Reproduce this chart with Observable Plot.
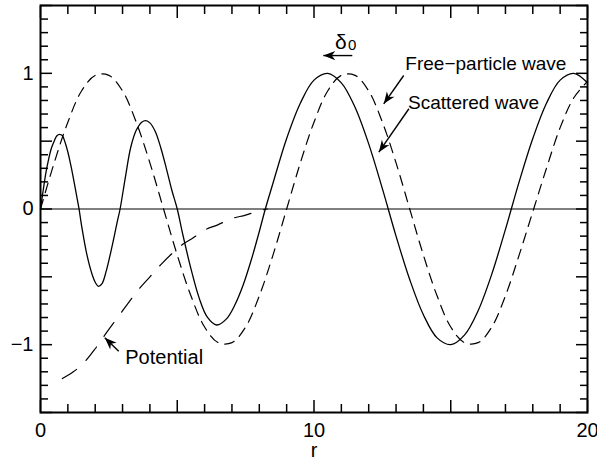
<!DOCTYPE html>
<html>
<head>
<meta charset="utf-8">
<script src="https://cdn.jsdelivr.net/npm/d3@7"></script>
<script src="https://cdn.jsdelivr.net/npm/@observablehq/plot@0.6"></script>
<style>
  html, body { margin: 0; padding: 0; background: #fff; }
  #chart svg { display: block; }
</style>
</head>
<body>
<div id="chart"></div>
<script>
// ---- Data ----
// Scattered wave (solid)
const scatR = [0, 0.1, 0.2, 0.3, 0.4, 0.5, 0.6, 0.7, 0.8, 0.9, 1.0, 1.1, 1.2, 1.3, 1.41,
  1.5, 1.7, 1.9, 2.0, 2.12, 2.25, 2.4, 2.6, 2.8, 2.91,
  3.1, 3.3, 3.5, 3.7, 3.85, 4.0, 4.2, 4.4, 4.6, 4.8, 5.0,
  5.2, 5.5, 5.8, 6.1, 6.44, 6.8, 7.1, 7.4, 7.7, 8.0, 8.22,
  8.5, 9.0, 9.5, 10.0, 10.5, 11.0, 11.5, 12.0, 12.5, 13.0, 13.5, 14.0, 14.5, 15.0,
  15.5, 16.0, 16.5, 17.0, 17.5, 18.0, 18.5, 19.0, 19.5, 20.0];
const scatV = [0, 0.14, 0.27, 0.37, 0.45, 0.50, 0.54, 0.55, 0.54, 0.49, 0.42, 0.33, 0.23, 0.12, 0,
  -0.12, -0.34, -0.49, -0.54, -0.57, -0.55, -0.46, -0.29, -0.10, 0,
  0.23, 0.455, 0.58, 0.64, 0.652, 0.635, 0.57, 0.45, 0.30, 0.14, 0,
  -0.185, -0.44, -0.655, -0.797, -0.855, -0.81, -0.71, -0.566, -0.38, -0.166, 0,
  0.19, 0.52, 0.78, 0.95, 1.00, 0.93, 0.75, 0.48, 0.15, -0.20, -0.52, -0.78, -0.95, -1.00,
  -0.93, -0.75, -0.48, -0.15, 0.20, 0.52, 0.78, 0.95, 1.00, 0.93];

// Free-particle wave (short dashes)
const freeR = [0, 0.5, 1, 1.5, 2, 2.5, 3, 3.5, 4, 4.5, 5, 5.5, 6, 6.5, 7, 7.5, 8, 8.5, 9, 9.5,
  10, 10.5, 11, 11.5, 12, 12.5, 13, 13.5, 14, 14.5, 15, 15.5, 16, 16.5, 17, 17.5, 18, 18.5, 19, 19.5, 20];
const freeV = [0, 0.34, 0.64, 0.87, 0.985, 0.985, 0.87, 0.64, 0.34, 0, -0.34, -0.64, -0.87, -0.985, -0.985, -0.87, -0.64, -0.34, 0, 0.34,
  0.64, 0.87, 0.985, 0.985, 0.87, 0.64, 0.34, 0, -0.34, -0.64, -0.87, -0.985, -0.985, -0.87, -0.64, -0.34, -0.02, 0.30, 0.60, 0.82, 0.94];

// Potential (long dashes)
const potR = [0.8, 1.2, 1.6, 2.0, 2.4, 2.8, 3.2, 3.6, 4.0, 4.4, 4.8, 5.2, 5.6, 6.0, 6.5, 7.0, 7.5, 8.0, 8.3];
const potV = [-1.25, -1.20, -1.13, -1.03, -0.915, -0.805, -0.695, -0.59, -0.50, -0.41, -0.33, -0.26, -0.21, -0.155, -0.115, -0.07, -0.045, -0.012, 0];

// Axis ticks
const xMajor = [0, 5, 10, 15, 20];
const xMinor = [1, 2, 3, 4, 6, 7, 8, 9, 11, 12, 13, 14, 16, 17, 18, 19];
const xLabels = [0, 10, 20];
const yMajor = [-1.5, -1, -0.5, 0, 0.5, 1, 1.5];
const yMinor = d3.range(-15, 16).filter(i => i % 5 !== 0).map(i => i / 10);
const yLabels = [-1, 0, 1];
const xTitle = "r";

// Annotations (data coordinates)
const arrowStartR = [11.40, 13.28, 13.47, 2.86];
const arrowStartV = [1.131, 0.984, 0.739, -1.048];
const arrowTipR   = [10.34, 12.55, 12.37, 2.35];
const arrowTipV   = [1.131, 0.775, 0.419, -0.949];
const labelText = ["Free\u2212particle wave", "Scattered wave", "Potential"];
const labelR = [13.34, 13.44, 3.10];
const labelV = [1.070, 0.781, -1.096];
const labelSize = [19, 19, 20];

// ---- Build tables ----
const scat = scatR.map((r, i) => ({r, v: scatV[i]}));
const free = freeR.map((r, i) => ({r, v: freeV[i]}));
const pot = potR.map((r, i) => ({r, v: potV[i]}));

const W = 597, H = 468;
const mL = 40, mR = 10, mT = 5, mB = 56;
const kx = (W - mL - mR) / 20, ky = (H - mT - mB) / 3;

const arrows = arrowStartR.map((r, i) => {
  const x1 = r, y1 = arrowStartV[i], x2 = arrowTipR[i], y2 = arrowTipV[i];
  const ang = Math.atan2(-(y2 - y1) * ky, (x2 - x1) * kx) * 180 / Math.PI;
  return {x1, y1, x2, y2, ang};
});
const labels = labelText.map((t, i) => ({t, r: labelR[i], v: labelV[i], s: labelSize[i]}));

const head = {
  draw(ctx) {
    ctx.moveTo(0, 0);
    ctx.lineTo(-12, -4.6);
    ctx.lineTo(-8.5, 0);
    ctx.lineTo(-12, 4.6);
    ctx.closePath();
  }
};

const font = "'Liberation Sans', Arial, Helvetica, sans-serif";
const noText = () => "";
const fmt = d => d < 0 ? "\u2212" + Math.abs(d) : String(d);

const chart = Plot.plot({
  width: W, height: H,
  marginLeft: mL, marginRight: mR, marginTop: mT, marginBottom: mB,
  style: {fontFamily: font, fontSize: "19px", background: "white", color: "black"},
  x: {domain: [0, 20]},
  y: {domain: [-1.5, 1.5]},
  marks: [
    Plot.ruleY([0], {stroke: "black", strokeWidth: 1.2}),
    Plot.line(pot, {x: "r", y: "v", stroke: "black", strokeWidth: 1.2, strokeDasharray: "17,13", curve: "catmull-rom"}),
    Plot.line(free, {x: "r", y: "v", stroke: "black", strokeWidth: 1.2, strokeDasharray: "10,7", curve: "catmull-rom"}),
    Plot.line(scat, {x: "r", y: "v", stroke: "black", strokeWidth: 1.3, curve: "catmull-rom"}),

    // inward ticks, all four sides
    Plot.axisX(xMinor, {anchor: "bottom", tickSize: -8, tickFormat: noText, strokeWidth: 1.5, label: null}),
    Plot.axisX(xMajor, {anchor: "bottom", tickSize: -12, tickFormat: noText, strokeWidth: 1.5, label: null}),
    Plot.axisX(xMinor, {anchor: "top", tickSize: -8, tickFormat: noText, strokeWidth: 1.5, label: null}),
    Plot.axisX(xMajor, {anchor: "top", tickSize: -12, tickFormat: noText, strokeWidth: 1.5, label: null}),
    Plot.axisY(yMinor, {anchor: "left", tickSize: -8, tickFormat: noText, strokeWidth: 1.5, label: null}),
    Plot.axisY(yMajor, {anchor: "left", tickSize: -12, tickFormat: noText, strokeWidth: 1.5, label: null}),
    Plot.axisY(yMinor, {anchor: "right", tickSize: -8, tickFormat: noText, strokeWidth: 1.5, label: null}),
    Plot.axisY(yMajor, {anchor: "right", tickSize: -12, tickFormat: noText, strokeWidth: 1.5, label: null}),

    // tick labels
    Plot.axisX(xLabels, {anchor: "bottom", tickSize: 0, tickPadding: 10, tickFormat: fmt, fontSize: 20, label: null}),
    Plot.axisY(yLabels, {anchor: "left", tickSize: 0, tickPadding: 7, tickFormat: fmt, fontSize: 20, label: null}),
    Plot.text([xTitle], {frameAnchor: "bottom", dy: 44, lineAnchor: "bottom", fontSize: 20, text: d => d}),

    Plot.frame({stroke: "black", strokeWidth: 2}),

    // annotations
    Plot.link(arrows, {x1: "x1", y1: "y1", x2: "x2", y2: "y2", stroke: "black", strokeWidth: 1.4}),
    Plot.dot(arrows, {x: "x2", y: "y2", symbol: head, rotate: "ang", fill: "black", stroke: "none"}),
    Plot.text(labels.slice(0, 2), {x: "r", y: "v", text: "t", textAnchor: "start", lineAnchor: "middle", fontSize: 19}),
    Plot.text(labels.slice(2), {x: "r", y: "v", text: "t", textAnchor: "start", lineAnchor: "middle", fontSize: 20}),
    Plot.text(["\u03b4"], {x: () => 10.98, y: () => 1.183, text: d => d, textAnchor: "middle", lineAnchor: "bottom", fontSize: 21}),
    Plot.text(["0"], {x: () => 11.40, y: () => 1.170, text: d => d, textAnchor: "middle", lineAnchor: "bottom", fontSize: 15})
  ]
});
document.getElementById("chart").appendChild(chart);
</script>
</body>
</html>
